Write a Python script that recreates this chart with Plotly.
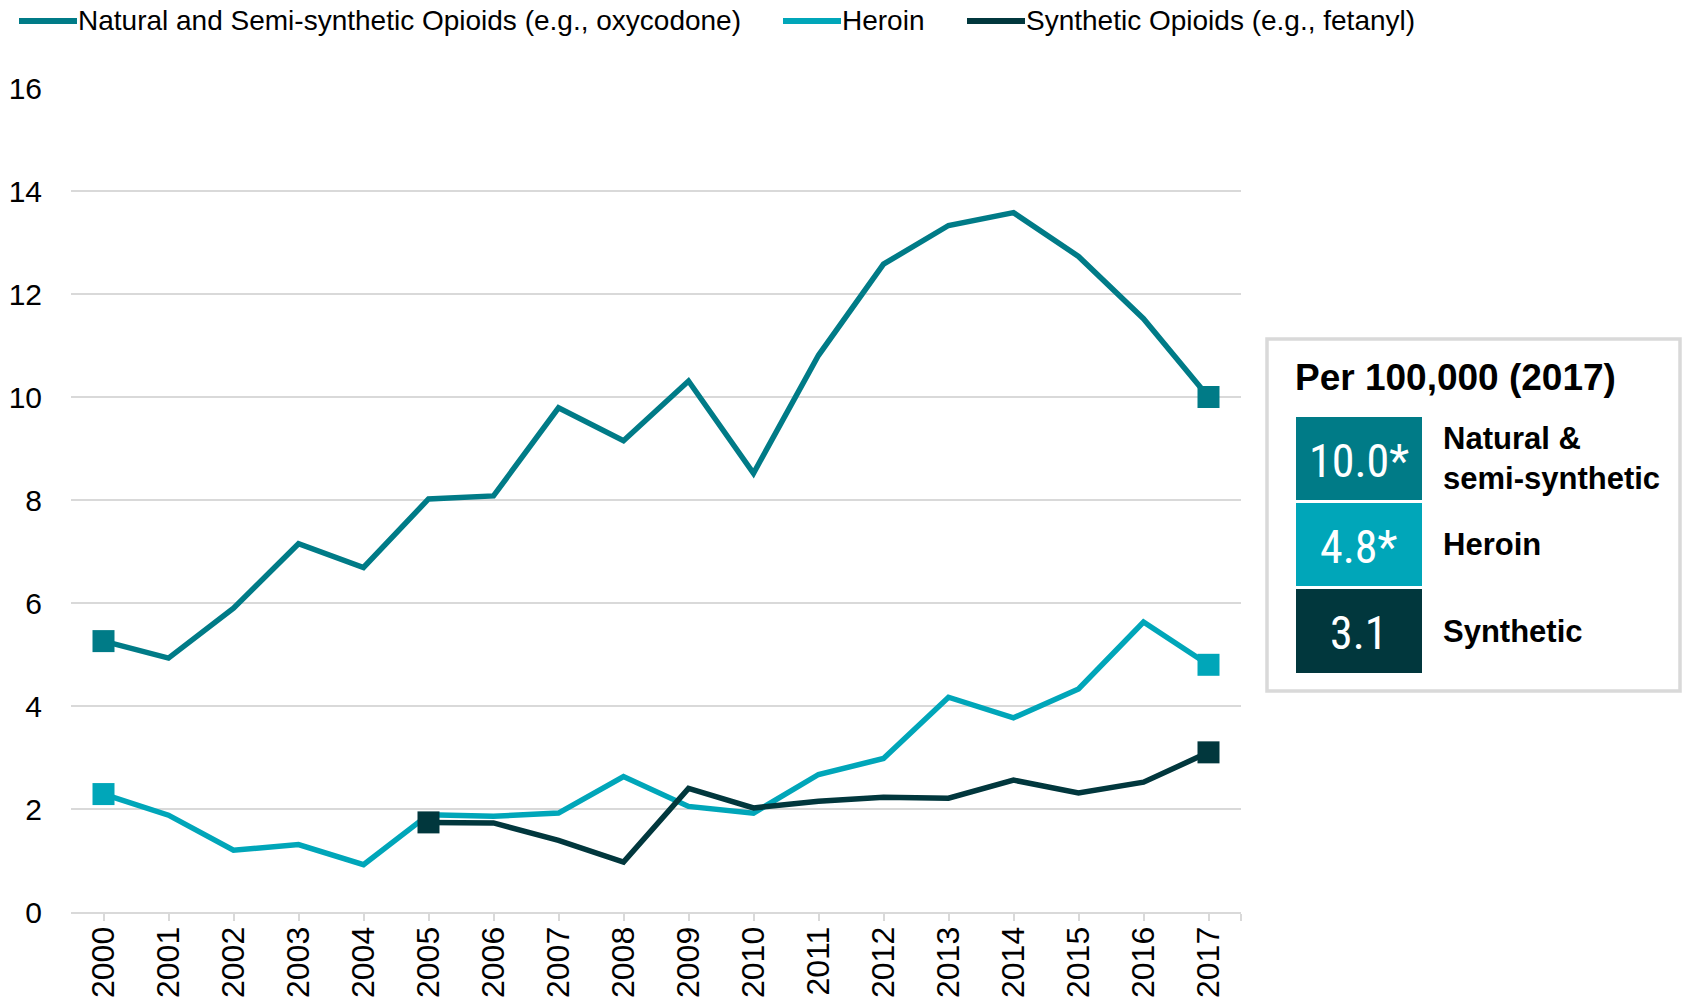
import plotly.graph_objects as go

# Opioid overdose death rates per 100,000, by opioid type
years = list(range(2000, 2018))
natural = [5.26, 4.93, 5.9, 7.15, 6.69, 8.02, 8.08, 9.79, 9.15, 10.31,
           8.52, 10.81, 12.58, 13.33, 13.58, 12.73, 11.52, 10.0]
heroin = [2.29, 1.88, 1.2, 1.31, 0.92, 1.89, 1.86, 1.92, 2.63, 2.05,
          1.92, 2.67, 2.98, 4.17, 3.77, 4.33, 5.63, 4.8]
synthetic = [None, None, None, None, None, 1.74, 1.73, 1.39, 0.97, 2.4,
             2.02, 2.15, 2.23, 2.21, 2.56, 2.31, 2.52, 3.1]

legend_names = ["Natural and Semi-synthetic Opioids (e.g., oxycodone)",
                "Heroin",
                "Synthetic Opioids (e.g., fetanyl)"]
box_labels = ["Natural &<br>semi-synthetic", "Heroin", "Synthetic"]
box_flags = ["*", "*", ""]
box_title = "Per 100,000 (2017)"
y_ticks = list(range(0, 17, 2))

colors = ["#007B87", "#00A6B9", "#01373D"]
FONT = "Liberation Sans, Arial, sans-serif"
NARROW = "Liberation Sans Narrow, Arial Narrow, Roboto Condensed, DejaVu Sans Condensed, sans-serif"
GRID = "#D9D9D9"

W, H = 1682, 1002
ML, MR, MT, MB = 71, 441, 88, 90
PW, PH = W - ML - MR, H - MT - MB


def px(x):
    return (x - ML) / PW


def py(y):
    return (H - MB - y) / PH


series = [natural, heroin, synthetic]
fig = go.Figure()

for name, vals, col in zip(legend_names, series, colors):
    fig.add_trace(go.Scatter(
        x=years, y=vals, name=name, mode="lines",
        line=dict(color=col, width=5.5),
        showlegend=False, hoverinfo="skip",
    ))

# square markers on the first and last observed point of each series
for vals, col in zip(series, colors):
    idx = [i for i, v in enumerate(vals) if v is not None]
    ends = [idx[0], idx[-1]]
    fig.add_trace(go.Scatter(
        x=[years[i] for i in ends], y=[vals[i] for i in ends],
        mode="markers",
        marker=dict(symbol="square", size=22, color=col, opacity=1,
                    line=dict(width=0)),
        showlegend=False, hoverinfo="skip",
    ))

shapes = []
annotations = []

# legend row across the top
legend_pos = [(19, 77), (783, 841), (967, 1025)]
for name, col, (x0, x1) in zip(legend_names, colors, legend_pos):
    shapes.append(dict(type="line", xref="paper", yref="paper",
                       x0=px(x0), x1=px(x1), y0=py(21), y1=py(21),
                       line=dict(color=col, width=6)))
    annotations.append(dict(xref="paper", yref="paper", x=px(x1), y=py(21),
                            text=name, showarrow=False, xanchor="left",
                            yanchor="middle", borderpad=0,
                            font=dict(family=FONT, size=28, color="#000000")))

# summary panel for 2017
shapes.append(dict(type="rect", xref="paper", yref="paper",
                   x0=px(1267), x1=px(1680), y0=py(339), y1=py(691),
                   line=dict(color=GRID, width=3.5), fillcolor="white"))
annotations.append(dict(xref="paper", yref="paper", x=px(1294), y=py(377),
                        text="<b>" + box_title + "</b>", showarrow=False,
                        xanchor="left", yanchor="middle", borderpad=0,
                        font=dict(family=FONT, size=37, color="#000000")))

rows = [(417, 500), (503, 586), (589, 673)]
latest = [natural[-1], heroin[-1], synthetic[-1]]
for (y0, y1), col, val, flag, lab in zip(rows, colors, latest, box_flags, box_labels):
    shapes.append(dict(type="rect", xref="paper", yref="paper",
                       x0=px(1296), x1=px(1422), y0=py(y1), y1=py(y0),
                       line=dict(width=0), fillcolor=col))
    ym = (y0 + y1) / 2
    annotations.append(dict(xref="paper", yref="paper", x=px(1359), y=py(ym + 2),
                            text=f"{val:.1f}{flag}", showarrow=False,
                            xanchor="center", yanchor="middle", borderpad=0,
                            font=dict(family=NARROW, size=46, color="white")))
    annotations.append(dict(xref="paper", yref="paper", x=px(1442), y=py(ym),
                            text="<b>" + lab + "</b>", showarrow=False,
                            xanchor="left", yanchor="middle", align="left",
                            borderpad=0,
                            font=dict(family=FONT, size=31, color="#000000")))

fig.update_layout(
    width=W, height=H,
    margin=dict(l=ML, r=MR, t=MT, b=MB, pad=0, autoexpand=False),
    paper_bgcolor="white", plot_bgcolor="white",
    font=dict(family=FONT, size=30, color="#000000"),
    shapes=shapes, annotations=annotations,
    hovermode=False,
    xaxis=dict(
        range=[1999.5, 2017.5],
        tickvals=years + [2017.5],
        ticktext=[str(y) for y in years] + [""],
        tickangle=-90,
        ticks="outside", ticklen=7, tickwidth=2, tickcolor=GRID,
        showline=True, linecolor=GRID, linewidth=2,
        showgrid=False, zeroline=False,
        tickfont=dict(family=FONT, size=32, color="#000000"),
        ticklabelstandoff=-7,
        automargin=False,
        fixedrange=True,
    ),
    yaxis=dict(
        range=[0, 16],
        tickvals=y_ticks,
        showgrid=True, gridcolor=GRID, gridwidth=2,
        zeroline=False, showline=False, ticks="",
        tickfont=dict(family=FONT, size=30, color="#000000"),
        ticklabelstandoff=28,
        automargin=False,
        fixedrange=True,
    ),
)

fig.write_html("out.html", config={"displayModeBar": False})
